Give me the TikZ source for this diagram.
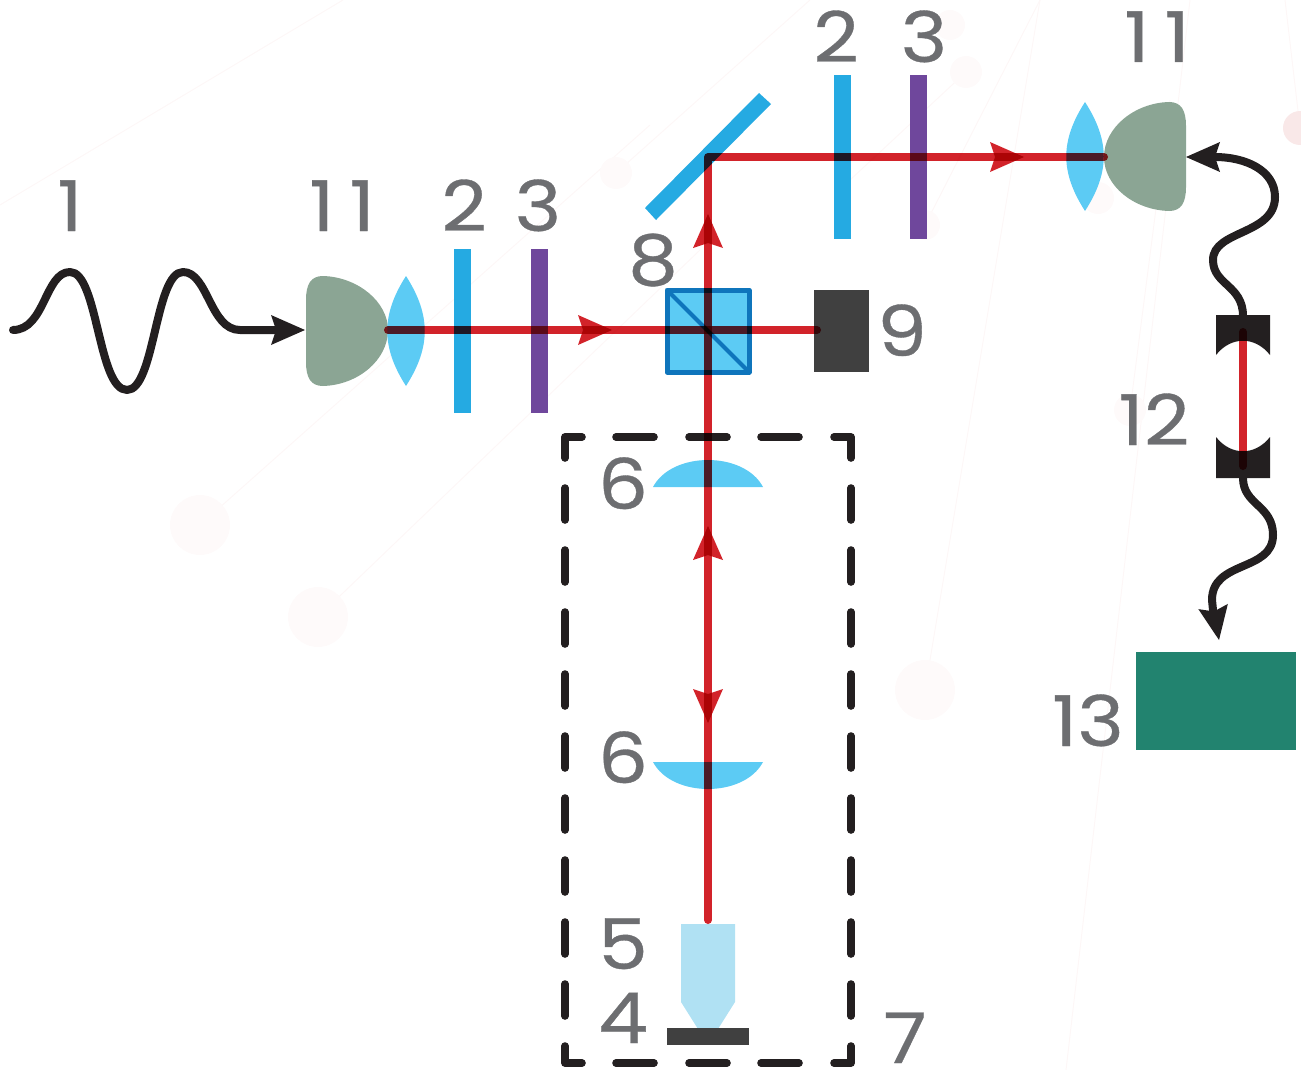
\documentclass[tikz,border=0pt]{standalone}
\usepackage{fontspec}
\setmainfont[FakeStretch=1.13,FakeBold=0.5]{Poppins}
\definecolor{beam}{HTML}{D2232A}
\definecolor{ink}{HTML}{231F20}
\definecolor{labelgrey}{HTML}{6D6E71}
\definecolor{lenscyan}{HTML}{5CCBF4}
\definecolor{plateblue}{HTML}{25AAE2}
\definecolor{platepurple}{HTML}{6F479C}
\definecolor{cubeedge}{HTML}{0F75BC}
\definecolor{detgreen}{HTML}{8BA594}
\definecolor{darkgrey}{HTML}{404040}
\definecolor{objblue}{HTML}{B0E1F3}
\definecolor{specgreen}{HTML}{22836F}
\definecolor{ghost}{HTML}{FEFAFA}
\definecolor{ghostline}{HTML}{FDF7F7}
\definecolor{ghostpink}{HTML}{F9E8E8}
\tikzset{
  lbl/.style={text=labelgrey,inner sep=0pt,anchor=base,font=\fontsize{70}{70}\selectfont},
  ghostln/.style={draw=ghostline,line width=1pt},
  lens/.style={fill=lenscyan},
  plateb/.style={fill=plateblue},
  platep/.style={fill=platepurple},
  beamline/.style={draw=beam,line width=8pt,line cap=round,line join=round},
  wire/.style={draw=ink,line width=8pt,line cap=round,line join=round},
  dashseg/.style={draw=ink,line width=7.6pt,line cap=round},
  redhead/.pic={\fill[beam] (0,0)--(-34,-15)--(-29,0)--(-34,15)--cycle;},
  blackhead/.pic={\fill[ink] (0,0)--(-34,-15)--(-29,0)--(-34,15)--cycle;}
}
\begin{document}
\begin{tikzpicture}[x=1pt,y=-1pt]
\useasboundingbox (0,0) rectangle (1301,1070);
% faint background
\foreach \a/\b/\c/\d in {0/205/343/0, 616/173/810/0, 200/525/650/125, 318/617/700/250, 925/690/1040/0, 925/225/1040/0, 1066/1070/1190/0, 1130/410/1170/100, 1300/128/1285/0, 966/72/850/180}
  \draw[ghostln] (\a,\b) -- (\c,\d);
\foreach \a/\b/\r in {616/173/16, 200/525/30, 318/617/30, 925/690/30, 966/72/16, 950/25/15, 1098/198/16, 925/225/15, 1130/410/16}
  \fill[ghost] (\a,\b) circle[radius=\r];
\fill[ghostpink] (1300,128) circle[radius=17];
% detectors and lenses
\fill[detgreen] (306,300) .. controls (306,284) and (311,276) .. (323,276)
  .. controls (358,277) and (388,302) .. (388,330)
  .. controls (388,360) and (358,385) .. (323,386)
  .. controls (311,386) and (306,378) .. (306,362) -- cycle;
\fill[detgreen] (1186,126) .. controls (1186,110) and (1181,102) .. (1169,102)
  .. controls (1134,103) and (1104,128) .. (1104,157)
  .. controls (1104,186) and (1134,210) .. (1169,211)
  .. controls (1181,211) and (1186,203) .. (1186,187) -- cycle;
\fill[lens] (406,276) .. controls (381,315) and (381,347) .. (406,386)
  .. controls (431,347) and (431,315) .. (406,276) -- cycle;
\fill[lens] (1085,102) .. controls (1060,141) and (1060,172) .. (1085,211)
  .. controls (1110,172) and (1110,141) .. (1085,102) -- cycle;
% plates
\fill[plateb] (454,249) rectangle (471,413);
\fill[platep] (531,249) rectangle (548,413);
\fill[plateb] (834,75) rectangle (851,239);
\fill[platep] (910,75) rectangle (927,239);
\fill[plateb] (645,208) -- (759,93) -- (771,104) -- (656,220) -- cycle;
% beam splitter cube and dump
\draw[draw=cubeedge,fill=lenscyan,line width=5pt,line join=round] (667,290) rectangle (749,372);
\draw[draw=cubeedge,line width=4pt] (667,290) -- (749,372);
\fill[darkgrey] (814,290) rectangle (869,372);
% plano lenses
\fill[lens] (653,487) .. controls (672,451) and (744,451) .. (763,487) -- cycle;
\fill[lens] (653,762) .. controls (672,798) and (744,798) .. (763,762) -- cycle;
% objective and sample
\fill[objblue] (681,924) -- (735,924) -- (735,1002) -- (718,1029) -- (698,1029) -- (681,1002) -- cycle;
\fill[darkgrey] (667,1028) rectangle (749,1045);
% cavity mirrors
\fill[ink] (1216,315) -- (1270,315) -- (1270,355) .. controls (1255,336) and (1231,336) .. (1216,355) -- cycle;
\fill[ink] (1216,478) -- (1270,478) -- (1270,437) .. controls (1255,456) and (1231,456) .. (1216,437) -- cycle;
% spectrometer
\fill[specgreen] (1136,652) rectangle (1296,750);
% named anchors
\coordinate (waveStart) at (13,330);
\coordinate (detInL) at (285,330);
\coordinate (detInR) at (1206,157);
\coordinate (cavTop) at (1243,316);
\coordinate (cavBot) at (1243,478);
\coordinate (specIn) at (1213,610);
% wires
\draw[wire] (waveStart) .. controls (45,330) and (45,272) .. (70,272)
  .. controls (98,272) and (98,390) .. (127,390)
  .. controls (155,390) and (155,272) .. (183,272)
  .. controls (208,272) and (210,330) .. (240,330) -- (detInL);
\draw[wire] (cavTop) .. controls (1243,285) and (1213,285) .. (1213,260)
  .. controls (1213,230) and (1275,235) .. (1275,197)
  .. controls (1275,170) and (1245,157) .. (1215,157) -- (detInR);
\draw[wire] (cavBot) .. controls (1243,505) and (1273,505) .. (1273,535)
  .. controls (1273,572) and (1212,560) .. (1212,600) -- (specIn);
\pic[rotate=0] at (305,330) {blackhead};
\pic[rotate=180] at (1186,157) {blackhead};
\pic[rotate=-80] at (1219,640) {blackhead};
% dashed enclosure
\foreach \s in {485,547,609,671,733,795,857,919,981} {
  \draw[dashseg] (565,\s+3) -- (565,\s+35);
  \draw[dashseg] (851,\s+3) -- (851,\s+35);
}
\foreach \s in {613,686,758} {
  \draw[dashseg] (\s+3,437) -- (\s+41,437);
  \draw[dashseg] (\s+3,1063) -- (\s+41,1063);
}
\draw[dashseg,line join=round] (565,458) -- (565,437) -- (582,437);
\draw[dashseg,line join=round] (834,437) -- (851,437) -- (851,458);
\draw[dashseg,line join=round] (565,1046) -- (565,1063) -- (582,1063);
\draw[dashseg,line join=round] (834,1063) -- (851,1063) -- (851,1046);
% beams, multiplied over the optics
\begin{scope}[blend mode=multiply]
\draw[beamline] (388,330) -- (817,330);
\draw[beamline] (708,920) -- (708,157) -- (1104,157);
\draw[beamline] (1243,332) -- (1243,466);
\pic[rotate=0] at (612,330) {redhead};
\pic[rotate=0] at (1024,157) {redhead};
\pic[rotate=90] at (708,214) {redhead};
\pic[rotate=90] at (708,526) {redhead};
\pic[rotate=-90] at (708,723) {redhead};
\end{scope}
% labels
\node[lbl] (l1) at (70,231) {1};
\node[lbl] (l11a) at (342,231) {1\kern15pt1};
\node[lbl] (l2a) at (464,231) {2};
\node[lbl] (l3a) at (538,231) {3};
\node[lbl] (l8) at (653,285) {8};
\node[lbl] (l9) at (902,356) {9};
\node[lbl] (l2b) at (836,62) {2};
\node[lbl] (l3b) at (924,62) {3};
\node[lbl] (l11b) at (1157,62) {1\kern15pt1};
\node[lbl] (l12) at (1154,445) {12};
\node[lbl] (l13) at (1088,746) {13};
\node[lbl] (l6a) at (623,509) {6};
\node[lbl] (l6b) at (623,783) {6};
\node[lbl] (l5) at (623,969) {5};
\node[lbl] (l4) at (623,1043) {4};
\node[lbl] (l7) at (905,1063) {7};
\end{tikzpicture}
\end{document}
